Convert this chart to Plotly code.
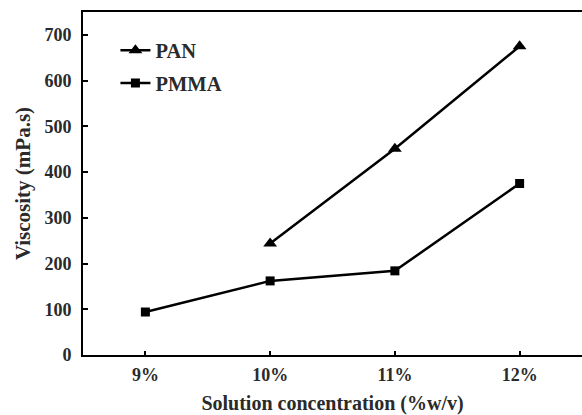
import plotly.graph_objects as go

categories = ["9%", "10%", "11%", "12%"]
pan_x = [1, 2, 3]
pan_values = [244, 451, 675]
pmma_x = [0, 1, 2, 3]
pmma_values = [94, 162, 184, 375]
y_ticks = [0, 100, 200, 300, 400, 500, 600, 700]

font_family = "Liberation Serif"
text_color = "#2a2a2a"

fig = go.Figure()
fig.add_trace(go.Scatter(
    x=pan_x, y=pan_values, name="<b>PAN</b>", mode="lines+markers",
    legendgroup="pan",
    line=dict(color="black", width=2.5),
    marker=dict(symbol="triangle-up", size=12, color="black"),
))
fig.add_trace(go.Scatter(
    x=pmma_x, y=pmma_values, name="<b>PMMA</b>", mode="lines+markers",
    legendgroup="pmma",
    line=dict(color="black", width=2.5),
    marker=dict(symbol="square", size=9, color="black"),
))

fig.update_layout(
    width=582, height=415,
    margin=dict(l=83, r=0, t=12, b=60),
    paper_bgcolor="white", plot_bgcolor="white",
    font=dict(family=font_family, size=18, color=text_color),
    showlegend=True,
    legend=dict(x=0.065, y=0.946, xanchor="left", yanchor="top",
                bgcolor="rgba(0,0,0,0)", font=dict(size=20.5, family=font_family, color=text_color),
                itemwidth=30, tracegroupgap=3),
    xaxis=dict(
        range=[-0.5, 3.5], tickmode="array",
        tickvals=list(range(len(categories))),
        ticktext=[f"<b>{c}</b>" for c in categories],
        showgrid=False, zeroline=False,
        showline=True, linecolor="black", linewidth=2, mirror=True,
        ticks="inside", ticklen=4, tickwidth=1.5, tickcolor="black",
        ticklabelstandoff=2,
        title=dict(text="<b>Solution concentration (%w/v)</b>", font=dict(size=20), standoff=14),
        tickfont=dict(size=18),
    ),
    yaxis=dict(
        range=[0, 750], tickmode="array", tickvals=y_ticks,
        ticktext=[f"<b>{v}</b>" for v in y_ticks],
        showgrid=False, zeroline=False,
        showline=True, linecolor="black", linewidth=2,
        ticks="inside", ticklen=5, tickwidth=1.5, tickcolor="black",
        ticklabelstandoff=6,
        title=dict(text="<b>Viscosity (mPa.s)</b>", font=dict(size=21), standoff=8),
        tickfont=dict(size=18),
    ),
)

fig.write_html(
    "out.html",
    config={"displayModeBar": False},
    post_script="document.body.style.margin='0';document.body.style.overflow='hidden';",
)
